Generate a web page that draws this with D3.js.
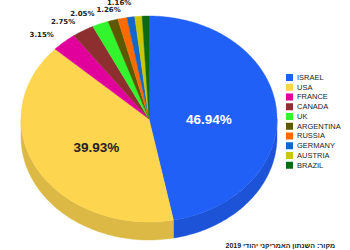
<!DOCTYPE html>
<html>
<head>
<meta charset="utf-8">
<title>pie3d</title>
<style>
  body { margin: 0; background: #fff; }
</style>
</head>
<body>
<script src="https://cdn.jsdelivr.net/npm/d3@7/dist/d3.min.js"></script>
<script>
  // data
  var countries = ["ISRAEL", "USA", "FRANCE", "CANADA", "UK", "ARGENTINA", "RUSSIA", "GERMANY", "AUSTRIA", "BRAZIL"];
  var shares = [46.94, 39.93, 3.15, 2.75, 2.05, 1.26, 1.16, 0.98, 0.92, 0.86];
  var colorList = ["#2160F7", "#FDD54E", "#E2009C", "#8E2F2F", "#33F52E", "#5E5800", "#FF6A00", "#1366CC", "#C9C800", "#0E6A12"];
  var sourceText = "מקור: השנתון האמריקני יהודי 2019";

  var width = 350, height = 250;
  var cx = 149, cy = 119, rx = 128, ry = 103, depth = 18;

  var svg = d3.select("body").append("svg")
    .attr("width", width)
    .attr("height", height);

  var data = countries.map(function(c, i) { return { name: c, value: shares[i], color: colorList[i] }; });

  var pie = d3.pie().sort(null).value(function(d) { return d.value; });
  var arcs = pie(data);

  // angle measured clockwise from top
  function px(a, k) { return cx + rx * (k || 1) * Math.sin(a); }
  function py(a, k) { return cy - ry * (k || 1) * Math.cos(a); }
  function mid(d) { return (d.startAngle + d.endAngle) / 2; }

  function topPath(d) {
    var steps = Math.max(4, Math.ceil((d.endAngle - d.startAngle) / 0.02));
    var pts = d3.range(steps + 1).map(function(i) {
      var a = d.startAngle + (d.endAngle - d.startAngle) * i / steps;
      return [px(a), py(a)];
    });
    return "M" + cx + "," + cy + "L" + pts.map(function(p) { return p.join(","); }).join("L") + "Z";
  }

  // outer wall, only the front half (between 90 and 270 deg)
  function sidePath(d) {
    var a0 = Math.max(d.startAngle, Math.PI / 2);
    var a1 = Math.min(d.endAngle, Math.PI * 1.5);
    if (a1 <= a0) return null;
    var steps = Math.max(4, Math.ceil((a1 - a0) / 0.02));
    var topPts = d3.range(steps + 1).map(function(i) {
      var a = a0 + (a1 - a0) * i / steps;
      return [px(a), py(a)];
    });
    var botPts = topPts.slice().reverse().map(function(p) { return [p[0], p[1] + depth]; });
    return "M" + topPts.concat(botPts).map(function(p) { return p.join(","); }).join("L") + "Z";
  }

  var sides = svg.append("g");
  sides.selectAll("path")
    .data(arcs.filter(function(d) { return sidePath(d); }))
    .enter().append("path")
    .attr("d", sidePath)
    .attr("fill", function(d) { return d3.color(d.data.color).darker(0.4); })
    .attr("stroke", function(d) { return d3.color(d.data.color).darker(0.4); })
    .attr("stroke-width", 0.4);

  var tops = svg.append("g");
  tops.selectAll("path")
    .data(arcs)
    .enter().append("path")
    .attr("d", topPath)
    .attr("fill", function(d) { return d.data.color; })
    .attr("stroke", function(d) { return d.data.color; })
    .attr("stroke-width", 0.4);

  // big labels inside
  var inner = arcs.filter(function(d) { return d.data.value > 10; });
  svg.append("g").selectAll("text")
    .data(inner)
    .enter().append("text")
    .attr("x", function(d) { return px(mid(d), 0.47); })
    .attr("y", function(d) { return py(mid(d), 0.47) + 6; })
    .attr("text-anchor", "middle")
    .attr("dominant-baseline", "middle")
    .style("font-family", "'Liberation Sans', Arial, sans-serif")
    .style("font-weight", "bold")
    .style("font-size", "13.5px")
    .style("fill", function(d, i) { return i === 0 ? "#fff" : "#222"; })
    .text(function(d) { return d.data.value.toFixed(2) + "%"; });

  // small labels outside, stacked upward when they collide
  var outer = arcs.filter(function(d) { return d.data.value <= 10; });
  var outerG = svg.append("g");
  var prev = null;
  outer.forEach(function(d) {
    var a = mid(d);
    var anchor = Math.sin(a) < -0.3 ? "end" : "middle";
    var t = outerG.append("text")
      .attr("text-anchor", anchor)
      .attr("dominant-baseline", "middle")
      .style("font-family", "'DejaVu Sans', sans-serif")
      .style("font-weight", "bold")
      .style("font-size", "7px")
      .style("fill", "#222")
      .text(d.data.value.toFixed(2) + "%");
    var w = t.node().getComputedTextLength();
    var x = px(a, 1.12), y = py(a, 1.12) + 2;
    var x0 = anchor === "end" ? x - w : x - w / 2;
    if (prev && x0 < prev.x1 && y > prev.y - 7) y = prev.y - 7;
    t.attr("x", x).attr("y", y);
    prev = { x1: x0 + w, y: y };
  });

  // legend
  var legend = svg.append("g").attr("transform", "translate(286,74)");
  var rows = legend.selectAll("g")
    .data(data)
    .enter().append("g")
    .attr("transform", function(d, i) { return "translate(0," + (i * 9.75) + ")"; });
  rows.append("rect")
    .attr("width", 7)
    .attr("height", 7)
    .attr("fill", function(d) { return d.color; });
  rows.append("text")
    .attr("x", 11)
    .attr("y", 3.8)
    .attr("dominant-baseline", "middle")
    .style("font-family", "'Liberation Sans', Arial, sans-serif")
    .style("font-size", "7.5px")
    .style("fill", "#222")
    .text(function(d) { return d.name; });

  // source note
  svg.append("text")
    .attr("x", 335)
    .attr("y", 246)
    .attr("text-anchor", "end")
    .attr("dominant-baseline", "middle")
    .style("font-family", "'Liberation Sans', Arial, sans-serif")
    .style("font-weight", "bold")
    .style("font-size", "7px")
    .style("fill", "#222")
    .text(sourceText);
</script>
</body>
</html>
